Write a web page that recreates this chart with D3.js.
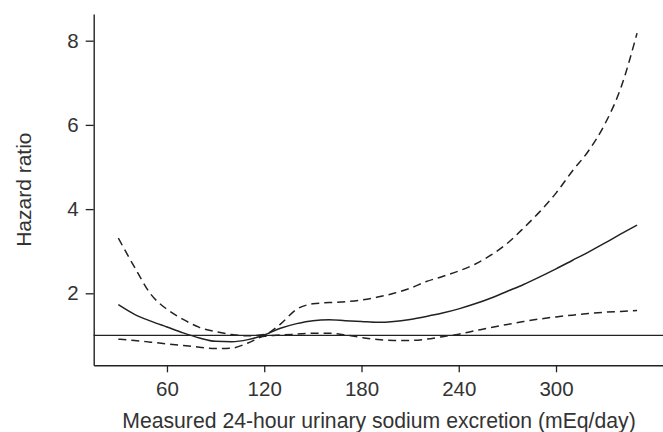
<!DOCTYPE html>
<html>
<head>
<meta charset="utf-8">
<script src="https://cdn.jsdelivr.net/npm/d3@7"></script>
<style>
  html, body { margin: 0; padding: 0; background: #fff; }
  svg { display: block; }
  text { font-family: "Liberation Sans", Arial, Helvetica, sans-serif; fill: #333; }
</style>
</head>
<body>
<svg id="chart" width="663" height="432"></svg>
<script>
// ---- data ----
const sodium = [30, 40, 50, 60, 70, 80, 90, 100, 110, 120, 130, 140, 150, 160, 170, 180, 190, 200, 210, 220, 230, 240, 250, 260, 270, 280, 290, 300, 310, 320, 330, 340, 350];
const hazard = [1.73, 1.50, 1.34, 1.20, 1.06, 0.94, 0.86, 0.85, 0.90, 1.01, 1.17, 1.28, 1.35, 1.37, 1.35, 1.33, 1.31, 1.33, 1.38, 1.45, 1.53, 1.63, 1.75, 1.89, 2.05, 2.21, 2.39, 2.58, 2.78, 2.98, 3.19, 3.41, 3.62];
const upperCI = [3.31, 2.62, 1.98, 1.62, 1.38, 1.19, 1.09, 1.02, 0.99, 1.02, 1.27, 1.62, 1.75, 1.78, 1.80, 1.84, 1.91, 2.00, 2.12, 2.28, 2.40, 2.53, 2.69, 2.91, 3.19, 3.55, 3.94, 4.38, 4.90, 5.38, 6.01, 6.88, 8.18];
const lowerCI = [0.91, 0.88, 0.84, 0.80, 0.76, 0.72, 0.69, 0.70, 0.82, 0.98, 1.01, 1.03, 1.05, 1.05, 1.01, 0.95, 0.90, 0.88, 0.88, 0.91, 0.97, 1.03, 1.11, 1.19, 1.26, 1.33, 1.39, 1.44, 1.48, 1.52, 1.55, 1.57, 1.59];
const xTicks = [60, 120, 180, 240, 300];
const yTicks = [2, 4, 6, 8];
const referenceHR = 1;
const xTitle = "Measured 24-hour urinary sodium excretion (mEq/day)";
const yTitle = "Hazard ratio";

// ---- layout ----
const svg = d3.select("#chart");
const plotLeft = 93.7, plotRight = 663, plotTop = 14, plotBottom = 365.3;
const x = d3.scaleLinear().domain([14.8, 366]).range([plotLeft, plotRight]);
const y = d3.scaleLinear().domain([0.29, 8.634]).range([plotBottom, plotTop]);

const ink = "#222";

// axes
const xAxis = svg.append("g").attr("transform", `translate(0,${plotBottom})`)
  .call(d3.axisBottom(x).tickValues(xTicks).tickSize(7).tickPadding(9).tickSizeOuter(0));
const yAxis = svg.append("g").attr("transform", `translate(${plotLeft},0)`)
  .call(d3.axisLeft(y).tickValues(yTicks).tickSize(8).tickPadding(7).tickSizeOuter(0));
[xAxis, yAxis].forEach(g => {
  g.select(".domain").attr("stroke", ink).attr("stroke-width", 1.4);
  g.selectAll(".tick line").attr("stroke", ink).attr("stroke-width", 1.3);
  g.selectAll(".tick text").attr("font-size", 20.5).attr("fill", "#333")
    .attr("font-family", '"Liberation Sans", Arial, sans-serif');
});

// reference line
svg.append("line")
  .attr("x1", x(x.domain()[0])).attr("x2", x(x.domain()[1]))
  .attr("y1", y(referenceHR)).attr("y2", y(referenceHR))
  .attr("stroke", ink).attr("stroke-width", 1.3);

// curves
const line = vals => d3.line()
  .x((d, i) => x(sodium[i]))
  .y(d => y(d))
  .curve(d3.curveMonotoneX)(vals);

svg.append("path").attr("d", line(upperCI))
  .attr("fill", "none").attr("stroke", ink).attr("stroke-width", 1.5).attr("stroke-dasharray", "8,5");
svg.append("path").attr("d", line(lowerCI))
  .attr("fill", "none").attr("stroke", ink).attr("stroke-width", 1.5).attr("stroke-dasharray", "8,5");
svg.append("path").attr("d", line(hazard))
  .attr("fill", "none").attr("stroke", ink).attr("stroke-width", 1.5);

// titles
svg.append("text").attr("x", 379).attr("y", 428)
  .attr("text-anchor", "middle").attr("font-size", 21.2).text(xTitle);
svg.append("text")
  .attr("transform", `translate(31,${(plotTop + plotBottom) / 2}) rotate(-90)`)
  .attr("text-anchor", "middle").attr("font-size", 21).text(yTitle);
</script>
</body>
</html>
